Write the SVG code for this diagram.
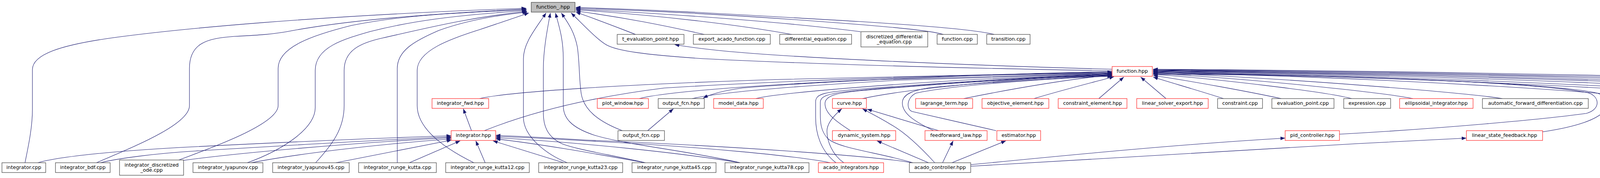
<svg xmlns="http://www.w3.org/2000/svg" width="5854" height="455" viewBox="0 0 5854 455">
<style>
.e{fill:none;stroke:#191970;stroke-width:1.1}
.n rect{fill:#fff;stroke:#404040;stroke-width:1.2}
.r rect{fill:#fff;stroke:#ff2020;stroke-width:1.2}
.root rect{fill:#bfbfbf;stroke:#404040;stroke-width:1.2}
text{font-family:"DejaVu Sans","Liberation Sans",sans-serif;font-size:12.7px;fill:#000;text-anchor:middle}
</style>
<defs>
<marker id="ah" markerUnits="userSpaceOnUse" markerWidth="13" markerHeight="9" refX="12" refY="4.5" orient="auto">
<path d="M0,0 L12,4.5 L0,9 z" fill="#191970"/>
</marker>
</defs>
<g id="edges" marker-end="url(#ah)">
<path class="e" marker-end="url(#ah)" d="M64,416 C70,385 83,330 83,280 L83,178 C83,140 150,115 300,95 S800,40 1347,21"/>
<path class="e" marker-end="url(#ah)" d="M247,416 C330,380 485,320 485,270 L485,175 C485,110 530,98 600,93 C660,90 700,88 750,78 C850,60 1000,40 1348,23"/>
<path class="e" marker-end="url(#ah)" d="M458,409 C520,385 712,320 712,270 L712,175 C712,120 800,90 900,65 C1000,45 1100,35 1348,25"/>
<path class="e" marker-end="url(#ah)" d="M633,416 C720,385 807,330 807,275 L807,180 C807,120 880,100 950,80 C1050,55 1150,40 1348,27"/>
<path class="e" marker-end="url(#ah)" d="M808,416 C850,370 881,330 881,270 L881,180 C881,130 920,110 980,97 C1100,70 1200,45 1349,29"/>
<path class="e" marker-end="url(#ah)" d="M1017,416 L1017,175 C1017,130 1060,105 1123,78 C1200,50 1280,38 1350,31"/>
<path class="e" marker-end="url(#ah)" d="M1213,416 C1140,380 1068,330 1068,270 L1068,180 C1068,130 1150,100 1230,75 C1280,58 1320,45 1354,33"/>
<path class="e" marker-end="url(#ah)" d="M1452,416 C1400,395 1340,350 1340,300 L1340,150 C1340,110 1370,75 1398,33"/>
<path class="e" marker-end="url(#ah)" d="M1652,416 C1560,395 1480,383 1440,368 C1400,350 1391,320 1391,290 L1391,175 C1391,130 1400,80 1409,33"/>
<path class="e" marker-end="url(#ah)" d="M1895,416 C1760,385 1600,370 1520,345 C1460,325 1442,300 1442,270 L1442,150 C1442,100 1432,70 1422,33"/>
<path class="e" marker-end="url(#ah)" d="M1593,334 C1530,310 1495,280 1488,240 C1482,200 1484,160 1478,120 C1470,80 1455,60 1437,33"/>
<path class="e" marker-end="url(#ah)" d="M2847,181 C2500,175 2100,165 1800,150 C1650,140 1580,130 1553,115 C1530,102 1500,70 1462,33"/>
<path class="e" marker-end="url(#ah)" d="M1627,88 C1580,70 1530,50 1474,31"/>
<path class="e" marker-end="url(#ah)" d="M1803,88 C1700,65 1600,45 1474,28"/>
<path class="e" marker-end="url(#ah)" d="M2027,88 C1900,65 1700,40 1474,25"/>
<path class="e" marker-end="url(#ah)" d="M2203,81 C2000,55 1700,35 1474,23"/>
<path class="e" marker-end="url(#ah)" d="M2415,88 C2380,78 2300,70 2100,55 C1900,40 1700,28 1474,21"/>
<path class="e" marker-end="url(#ah)" d="M2545,88 C2500,77 2400,68 2200,55 C1900,38 1700,25 1474,19"/>
<path class="e" marker-end="url(#ah)" d="M2847,177 C2400,165 2000,145 1850,130 C1790,124 1750,118 1727,114"/>
<path class="e" marker-end="url(#ah)" d="M1228,252 C1300,235 1600,215 2000,203 C2400,192 2700,187 2847,184"/>
<path class="e" marker-end="url(#ah)" d="M1240,334 C1350,290 1500,250 1700,225 C2100,200 2600,190 2847,186"/>
<path class="e" marker-end="url(#ah)" d="M1637,252 C1700,235 1900,220 2200,205 C2500,195 2700,190 2847,187"/>
<path class="e" marker-end="url(#ah)" d="M1772,252 C1830,238 2000,222 2300,205 C2600,195 2750,190 2847,188"/>
<path class="e" marker-end="url(#ah)" d="M2847,183 C2500,190 2100,208 1900,225 C1850,232 1820,240 1800,251"/>
<path class="e" marker-end="url(#ah)" d="M1935,252 C1980,240 2200,220 2500,203 C2700,194 2800,191 2847,189"/>
<path class="e" marker-end="url(#ah)" d="M2208,252 C2300,232 2500,210 2700,198 C2780,194 2820,192 2847,190"/>
<path class="e" marker-end="url(#ah)" d="M2467,252 C2600,225 2750,200 2847,192"/>
<path class="e" marker-end="url(#ah)" d="M2647,252 C2720,230 2800,210 2852,196"/>
<path class="e" marker-end="url(#ah)" d="M2813,252 L2877,197"/>
<path class="e" marker-end="url(#ah)" d="M2985,252 L2920,197"/>
<path class="e" marker-end="url(#ah)" d="M2177,334 C2140,310 2112,290 2112,265 C2112,245 2140,238 2200,232 C2500,205 2750,195 2847,193"/>
<path class="e" marker-end="url(#ah)" d="M2140,416 C2100,385 2088,340 2088,300 L2088,260 C2088,240 2110,235 2200,228 C2500,205 2750,192 2847,191"/>
<path class="e" marker-end="url(#ah)" d="M2337,416 C2250,390 2150,380 2120,355 C2100,335 2100,310 2100,290 L2100,262 C2100,245 2120,238 2200,231 C2500,205 2750,193 2847,192"/>
<path class="e" marker-end="url(#ah)" d="M2390,334 C2340,310 2310,290 2310,263 C2310,240 2340,228 2400,222 C2600,205 2780,195 2847,194"/>
<path class="e" marker-end="url(#ah)" d="M2550,334 C2480,318 2400,300 2335,285 C2320,280 2320,250 2345,238 C2450,215 2750,197 2847,195"/>
<path class="e" marker-end="url(#ah)" d="M3132,252 C3080,235 3000,212 2952,197"/>
<path class="e" marker-end="url(#ah)" d="M3280,252 C3200,235 3050,207 2952,193"/>
<path class="e" marker-end="url(#ah)" d="M3460,252 C3400,235 3100,200 2952,190"/>
<path class="e" marker-end="url(#ah)" d="M3617,252 C3550,238 3200,200 2952,188"/>
<path class="e" marker-end="url(#ah)" d="M3846,252 C3750,237 3300,200 2952,186"/>
<path class="e" marker-end="url(#ah)" d="M4218,252 C4150,238 3600,200 2952,185"/>
<path class="e" marker-end="url(#ah)" d="M4376,245 C4300,233 3700,200 2952,184"/>
<path class="e" marker-end="url(#ah)" d="M4575,252 C4500,237 3800,198 2952,183"/>
<path class="e" marker-end="url(#ah)" d="M4733,252 C4650,236 3900,195 2952,182"/>
<path class="e" marker-end="url(#ah)" d="M4895,252 C4830,236 4000,193 2952,181"/>
<path class="e" marker-end="url(#ah)" d="M5068,252 C4980,237 4100,192 2952,180"/>
<path class="e" marker-end="url(#ah)" d="M5265,252 C5180,237 4200,190 2952,179"/>
<path class="e" marker-end="url(#ah)" d="M5495,252 C5430,240 4300,188 2952,178"/>
<path class="e" marker-end="url(#ah)" d="M5703,252 C5620,238 4400,186 2952,177"/>
<path class="e" marker-end="url(#ah)" d="M3429,343 C3700,328 3950,305 4060,290 C4100,280 4095,245 4065,237 C3900,205 3300,190 2952,188"/>
<path class="e" marker-end="url(#ah)" d="M3949,337 C4030,325 4100,305 4112,275 C4120,250 4100,240 4080,236 C3900,205 3300,190 2952,190"/>
<path class="e" marker-end="url(#ah)" d="M97,416 C150,400 300,385 500,375 C800,360 1000,352 1155,347"/>
<path class="e" marker-end="url(#ah)" d="M257,416 C300,405 400,392 500,386 C800,368 1000,356 1155,350"/>
<path class="e" marker-end="url(#ah)" d="M470,410 C600,392 900,365 1155,352"/>
<path class="e" marker-end="url(#ah)" d="M643,416 C750,395 950,370 1155,355"/>
<path class="e" marker-end="url(#ah)" d="M860,416 C950,398 1050,378 1156,358"/>
<path class="e" marker-end="url(#ah)" d="M1048,416 L1178,360"/>
<path class="e" marker-end="url(#ah)" d="M1242,416 L1218,360"/>
<path class="e" marker-end="url(#ah)" d="M1443,416 L1262,360"/>
<path class="e" marker-end="url(#ah)" d="M1652,416 C1550,398 1400,370 1269,355"/>
<path class="e" marker-end="url(#ah)" d="M1895,416 C1750,392 1500,365 1269,352"/>
<path class="e" marker-end="url(#ah)" d="M2125,416 C2050,400 1800,375 1500,360 C1400,354 1320,350 1269,349"/>
<path class="e" marker-end="url(#ah)" d="M2333,416 C2250,400 1900,375 1500,358 C1400,352 1320,348 1269,346"/>
<path class="e" marker-end="url(#ah)" d="M1207,334 L1186,278"/>
<path class="e" marker-end="url(#ah)" d="M1658,334 L1724,278"/>
<path class="e" marker-end="url(#ah)" d="M2160,416 C2130,395 2117,360 2117,335 C2117,315 2135,295 2155,278"/>
<path class="e" marker-end="url(#ah)" d="M2393,416 C2360,380 2320,340 2280,318 C2260,305 2230,290 2208,278"/>
<path class="e" marker-end="url(#ah)" d="M2403,334 L2220,279"/>
<path class="e" marker-end="url(#ah)" d="M2377,416 L2245,360"/>
<path class="e" marker-end="url(#ah)" d="M2413,416 L2440,360"/>
<path class="e" marker-end="url(#ah)" d="M2437,416 L2575,360"/>
<path class="e" marker-end="url(#ah)" d="M2485,421 C2700,400 3000,370 3290,353"/>
<path class="e" marker-end="url(#ah)" d="M2485,425 C2800,405 3300,375 3754,353"/>
</g>
<g id="n_function_"  class="root"><rect x="1360" y="6" width="112" height="25"/><text x="1416" y="21.7">function_.hpp</text></g>
<g id="n_t_eval" class="n"><rect x="1580" y="88" width="171" height="25"/><text x="1665.5" y="103.7">t_evaluation_point.hpp</text></g>
<g id="n_export_acado" class="n"><rect x="1775" y="88" width="197" height="25"/><text x="1873.5" y="103.7">export_acado_function.cpp</text></g>
<g id="n_diff_eq" class="n"><rect x="1996" y="88" width="184" height="25"/><text x="2088" y="103.7">differential_equation.cpp</text></g>
<g id="n_disc_diff" class="n"><rect x="2204" y="81" width="171" height="39"/><text x="2289.5" y="97.5">discretized_differential</text><text x="2289.5" y="111.3">_equation.cpp</text></g>
<g id="n_function_cpp" class="n"><rect x="2399" y="88" width="103" height="25"/><text x="2450.5" y="103.7">function.cpp</text></g>
<g id="n_transition" class="n"><rect x="2526" y="88" width="111" height="25"/><text x="2581.5" y="103.7">transition.cpp</text></g>
<g id="n_function_hpp" class="r"><rect x="2847" y="170" width="103" height="25"/><text x="2898.5" y="185.7">function.hpp</text></g>
<g id="n_integrator_fwd" class="r"><rect x="1106" y="252" width="145" height="25"/><text x="1178.5" y="267.7">integrator_fwd.hpp</text></g>
<g id="n_plot_window" class="r"><rect x="1529" y="252" width="131" height="25"/><text x="1594.5" y="267.7">plot_window.hpp</text></g>
<g id="n_output_fcn_hpp" class="n"><rect x="1685" y="252" width="118" height="25"/><text x="1744" y="267.7">output_fcn.hpp</text></g>
<g id="n_model_data" class="r"><rect x="1827" y="252" width="127" height="25"/><text x="1890.5" y="267.7">model_data.hpp</text></g>
<g id="n_curve" class="r"><rect x="2131" y="252" width="87" height="25"/><text x="2174.5" y="267.7">curve.hpp</text></g>
<g id="n_lagrange" class="r"><rect x="2344" y="252" width="146" height="25"/><text x="2417" y="267.7">lagrange_term.hpp</text></g>
<g id="n_objective" class="r"><rect x="2514" y="252" width="171" height="25"/><text x="2599.5" y="267.7">objective_element.hpp</text></g>
<g id="n_constraint_el" class="r"><rect x="2709" y="252" width="176" height="25"/><text x="2797" y="267.7">constraint_element.hpp</text></g>
<g id="n_lin_solver" class="r"><rect x="2910" y="252" width="183" height="25"/><text x="3001.5" y="267.7">linear_solver_export.hpp</text></g>
<g id="n_constraint_cpp" class="n"><rect x="3117" y="252" width="115" height="25"/><text x="3174.5" y="267.7">constraint.cpp</text></g>
<g id="n_eval_point" class="n"><rect x="3256" y="252" width="159" height="25"/><text x="3335.5" y="267.7">evaluation_point.cpp</text></g>
<g id="n_expression" class="n"><rect x="3440" y="252" width="120" height="25"/><text x="3500" y="267.7">expression.cpp</text></g>
<g id="n_ellipsoidal" class="r"><rect x="3583" y="252" width="188" height="25"/><text x="3677" y="267.7">ellipsoidal_integrator.hpp</text></g>
<g id="n_auto_fwd" class="n"><rect x="3795" y="252" width="271" height="25"/><text x="3930.5" y="267.7">automatic_forward_differentiation.cpp</text></g>
<g id="n_dependency" class="n"><rect x="4192" y="252" width="160" height="25"/><text x="4272" y="267.7">dependency_test.cpp</text></g>
<g id="n_disciplined" class="n"><rect x="4376" y="245" width="152" height="39"/><text x="4452" y="261.5">disciplined_convex</text><text x="4452" y="275.3">_programming1.cpp</text></g>
<g id="n_export_to_c" class="n"><rect x="4552" y="252" width="125" height="25"/><text x="4614.5" y="267.7">export_to_c.cpp</text></g>
<g id="n_getting_started" class="n"><rect x="4702" y="252" width="148" height="25"/><text x="4776" y="267.7">getting_started.cpp</text></g>
<g id="n_index_lists" class="n"><rect x="4874" y="252" width="119" height="25"/><text x="4933.5" y="267.7">index_lists.cpp</text></g>
<g id="n_intermediate" class="n"><rect x="5016" y="252" width="181" height="25"/><text x="5106.5" y="267.7">intermediate_states.cpp</text></g>
<g id="n_interval" class="n"><rect x="5221" y="252" width="213" height="25"/><text x="5327.5" y="267.7">interval_function_tutorial.cpp</text></g>
<g id="n_linking2" class="n"><rect x="5459" y="252" width="183" height="25"/><text x="5550.5" y="267.7">linking_c_functions2.cpp</text></g>
<g id="n_linking3" class="n"><rect x="5666" y="252" width="183" height="25"/><text x="5757.5" y="267.7">linking_c_functions3.cpp</text></g>
<g id="n_integrator_hpp" class="r"><rect x="1155" y="334" width="114" height="25"/><text x="1212" y="349.7">integrator.hpp</text></g>
<g id="n_output_fcn_cpp" class="n"><rect x="1582" y="334" width="119" height="25"/><text x="1641.5" y="349.7">output_fcn.cpp</text></g>
<g id="n_dynamic_system" class="r"><rect x="2131" y="334" width="162" height="25"/><text x="2212" y="349.7">dynamic_system.hpp</text></g>
<g id="n_feedforward" class="r"><rect x="2368" y="334" width="159" height="25"/><text x="2447.5" y="349.7">feedforward_law.hpp</text></g>
<g id="n_estimator" class="r"><rect x="2552" y="334" width="112" height="25"/><text x="2608" y="349.7">estimator.hpp</text></g>
<g id="n_pid" class="r"><rect x="3290" y="334" width="139" height="25"/><text x="3359.5" y="349.7">pid_controller.hpp</text></g>
<g id="n_lsf" class="r"><rect x="3754" y="334" width="195" height="25"/><text x="3851.5" y="349.7">linear_state_feedback.hpp</text></g>
<g id="n_integrator_cpp" class="n"><rect x="5" y="416" width="112" height="25"/><text x="61" y="431.7">integrator.cpp</text></g>
<g id="n_bdf" class="n"><rect x="142" y="416" width="140" height="25"/><text x="212" y="431.7">integrator_bdf.cpp</text></g>
<g id="n_disc_ode" class="n"><rect x="306" y="409" width="164" height="39"/><text x="388" y="425.5">integrator_discretized</text><text x="388" y="439.3">_ode.cpp</text></g>
<g id="n_lyap" class="n"><rect x="494" y="416" width="179" height="25"/><text x="583.5" y="431.7">integrator_lyapunov.cpp</text></g>
<g id="n_lyap45" class="n"><rect x="698" y="416" width="196" height="25"/><text x="796" y="431.7">integrator_lyapunov45.cpp</text></g>
<g id="n_rk" class="n"><rect x="918" y="416" width="199" height="25"/><text x="1017.5" y="431.7">integrator_runge_kutta.cpp</text></g>
<g id="n_rk12" class="n"><rect x="1141" y="416" width="214" height="25"/><text x="1248" y="431.7">integrator_runge_kutta12.cpp</text></g>
<g id="n_rk23" class="n"><rect x="1379" y="416" width="215" height="25"/><text x="1486.5" y="431.7">integrator_runge_kutta23.cpp</text></g>
<g id="n_rk45" class="n"><rect x="1618" y="416" width="215" height="25"/><text x="1725.5" y="431.7">integrator_runge_kutta45.cpp</text></g>
<g id="n_rk78" class="n"><rect x="1856" y="416" width="215" height="25"/><text x="1963.5" y="431.7">integrator_runge_kutta78.cpp</text></g>
<g id="n_acado_integrators" class="r"><rect x="2095" y="416" width="167" height="25"/><text x="2178.5" y="431.7">acado_integrators.hpp</text></g>
<g id="n_acado_controller" class="n"><rect x="2328" y="416" width="157" height="25"/><text x="2406.5" y="431.7">acado_controller.hpp</text></g>
</svg>
